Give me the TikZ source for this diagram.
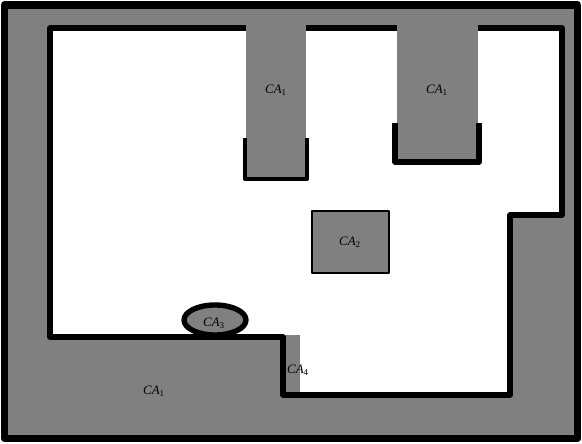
\documentclass[tikz,border=0pt]{standalone}
\usepackage{fontspec}
\setmainfont{Liberation Serif}
\newcommand{\calab}[1]{\textit{CA}\textsubscript{#1}}
\begin{document}
\begin{tikzpicture}[x=0.03cm,y=-0.03cm,line join=round,
  area/.style={fill=gray},
  wall/.style={line width=4.6pt},
  lab/.style={font=\fontsize{11}{13}\selectfont}]
\useasboundingbox (0,0) rectangle (582,443);
% outer frame
\draw[area,line width=6.5pt] (4.5,5) rectangle (577.5,438.5);
% free space
\fill[white] (50,28) -- (562,28) -- (562,215) -- (510,215) -- (510,395)
  -- (283,395) -- (283,337) -- (50,337) -- cycle;
\fill[area] (283,335) rectangle (300,393);
\draw[wall] (50,28) -- (562,28) -- (562,215) -- (510,215) -- (510,395)
  -- (283,395) -- (283,337) -- (50,337) -- cycle;
% columns from the top
\fill[area] (246,9) rectangle (306,179);
\fill[area] (397,9) rectangle (478,162);
\draw[line width=3.5pt] (245,138) -- (245,179) -- (307,179) -- (307,138);
\draw[line width=4.6pt] (395,123) -- (395,162) -- (479,162) -- (479,123);
% obstacles
\draw[area,line width=1.2pt] (312,211) rectangle (389,273);
\draw[area,line width=4.6pt] (215,320) ellipse (31 and 15);
% labels
\node[lab] (c1a) at (276,90) {\calab{1}};
\node[lab] (c1b) at (437,90) {\calab{1}};
\node[lab] (c1c) at (154,391) {\calab{1}};
\node[lab] (c2) at (350,242) {\calab{2}};
\node[lab] (c3) at (214,323) {\calab{3}};
\node[lab] (c4) at (298,370) {\calab{4}};
\end{tikzpicture}
\end{document}
